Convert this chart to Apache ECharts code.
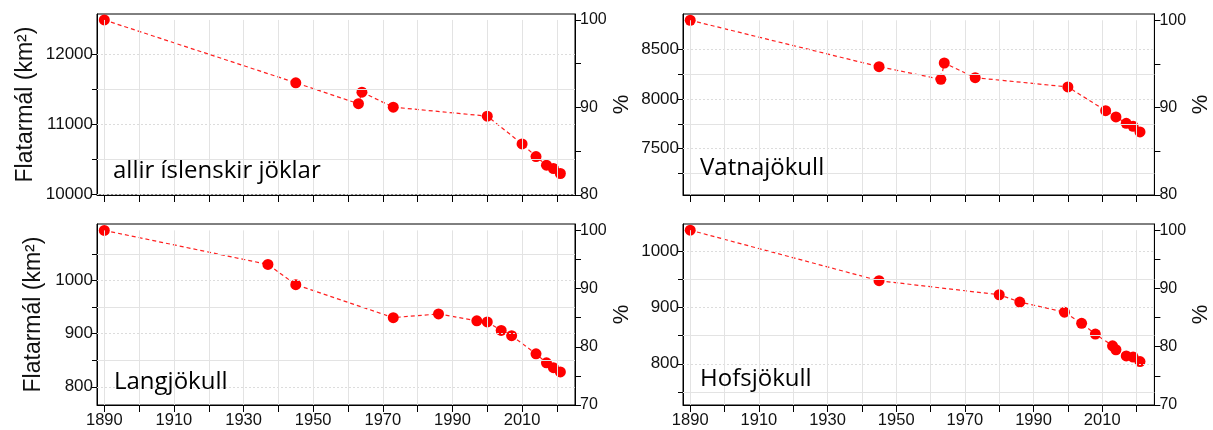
<!DOCTYPE html>
<html>
<head>
<meta charset="utf-8">
<script src="https://cdn.jsdelivr.net/npm/echarts@6/dist/echarts.min.js"></script>
<style>
  html, body { margin: 0; padding: 0; background: #fff; }
  #chart { width: 1213px; height: 430px; }
</style>
</head>
<body>
<div id="chart"></div>
<script>
// flatarmál jökla (km2) eftir árum
const allirYears = [1890, 1945, 1963, 1964, 1973, 2000, 2010, 2014, 2017, 2019, 2021];
const allirArea = [12484, 11588, 11289, 11454, 11240, 11112, 10716, 10535, 10412, 10365, 10294];

const vatnaYears = [1890, 1945, 1963, 1964, 1973, 2000, 2011, 2014, 2017, 2019, 2021];
const vatnaArea = [8792, 8325, 8198, 8362, 8214, 8121, 7882, 7819, 7755, 7725, 7668];

const langYears = [1890, 1937, 1945, 1973, 1986, 1997, 2000, 2004, 2007, 2014, 2017, 2019, 2021];
const langArea = [1094, 1030, 992, 930, 937, 924, 922, 906, 896, 862, 845, 836, 828];

const hofsYears = [1890, 1945, 1980, 1986, 1999, 2004, 2008, 2013, 2014, 2017, 2019, 2021];
const hofsArea = [1038, 948, 923, 910, 892, 872, 853, 832, 825, 814, 812, 804];

// ásar
const yearTicks = [1890, 1900, 1910, 1920, 1930, 1940, 1950, 1960, 1970, 1980, 1990, 2000, 2010, 2020];
const yearLabels = [1890, 1910, 1930, 1950, 1970, 1990, 2010];

const allirTicks = [10000, 10500, 11000, 11500, 12000];
const allirLabels = [10000, 11000, 12000];
const vatnaTicks = [7250, 7500, 7750, 8000, 8250, 8500];
const vatnaLabels = [7500, 8000, 8500];
const langTicks = [800, 850, 900, 950, 1000, 1050];
const langLabels = [800, 900, 1000];
const hofsTicks = [750, 800, 850, 900, 950, 1000];
const hofsLabels = [800, 900, 1000];

const pctTicksTop = [80, 85, 90, 95, 100];
const pctLabelsTop = [80, 90, 100];
const pctTicksBottom = [70, 75, 80, 85, 90, 95, 100];
const pctLabelsBottom = [70, 80, 90, 100];

const FONT = '"Liberation Sans", Arial, sans-serif';
const TXT = '#111';
const plain = function (v) { return String(Math.round(v)); };

const panels = [
  { label: 'allir íslenskir jöklar', years: allirYears, area: allirArea, ticks: allirTicks, labels: allirLabels,
    pctMin: 80, pctTicks: pctTicksTop, pctLabels: pctLabelsTop, yMax: 12569,
    left: 97, top: 14, width: 478, bottomRow: false, title: true, nameGap: 60, textX: 113, textBase: 180 },
  { label: 'Vatnajökull', years: vatnaYears, area: vatnaArea, ticks: vatnaTicks, labels: vatnaLabels,
    pctMin: 80, pctTicks: pctTicksTop, pctLabels: pctLabelsTop, yMax: 8855,
    left: 683, top: 14, width: 478, bottomRow: false, title: false, textX: 700, textBase: 177 },
  { label: 'Langjökull', years: langYears, area: langArea, ticks: langTicks, labels: langLabels,
    pctMin: 70, pctTicks: pctTicksBottom, pctLabels: pctLabelsBottom, yMax: 1106,
    left: 97, top: 224, width: 478, bottomRow: true, title: true, nameGap: 52, textX: 114, textBase: 391 },
  { label: 'Hofsjökull', years: hofsYears, area: hofsArea, ticks: hofsTicks, labels: hofsLabels,
    pctMin: 70, pctTicks: pctTicksBottom, pctLabels: pctLabelsBottom, yMax: 1049,
    left: 683, top: 224, width: 478, bottomRow: true, title: false, textX: 700, textBase: 388 }
];

const grid = [], xAxis = [], yAxis = [], series = [], graphic = [];

panels.forEach(function (p, i) {
  const ref = p.area[0];
  const yMin = ref * p.pctMin / 100;

  grid.push({ left: p.left, top: p.top, width: p.width, height: 181,
    show: true, borderColor: '#000', borderWidth: 1, backgroundColor: '#fff' });

  xAxis.push({
    gridIndex: i, type: 'value', min: 1887.9, max: 2025.2,
    axisLine: { onZero: false, lineStyle: { color: '#000', width: 1 } },
    axisTick: { customValues: yearTicks, length: 7, lineStyle: { color: '#000' } },
    axisLabel: { show: p.bottomRow, customValues: yearLabels, formatter: plain,
      fontSize: 16.5, fontFamily: FONT, color: TXT, margin: 7 },
    splitLine: { show: false }
  });

  yAxis.push({
    gridIndex: i, type: 'value', position: 'left', min: yMin, max: p.yMax,
    axisLine: { show: true, lineStyle: { color: '#000', width: 1 } },
    axisTick: { show: true, customValues: p.ticks, length: 5, lineStyle: { color: '#000' } },
    axisLabel: { customValues: p.labels, formatter: plain, fontSize: 17, fontFamily: FONT, color: TXT, margin: 4 },
    splitLine: { show: false },
    name: p.title ? 'Flatarmál (km²)' : '', nameLocation: 'middle', nameGap: p.nameGap || 0,
    nameTextStyle: { fontSize: 23, fontFamily: FONT, color: TXT }
  });

  yAxis.push({
    gridIndex: i, type: 'value', position: 'right', min: p.pctMin, max: p.yMax / ref * 100,
    axisLine: { show: true, lineStyle: { color: '#000', width: 1 } },
    axisTick: { show: true, customValues: p.pctTicks, length: 6, lineStyle: { color: '#000' } },
    axisLabel: { customValues: p.pctLabels, formatter: plain, fontSize: 16, fontFamily: FONT, color: TXT, margin: 5 },
    splitLine: { show: false },
    name: '%', nameLocation: 'middle', nameRotate: 90, nameGap: 27,
    nameTextStyle: { fontSize: 22, fontFamily: FONT, color: TXT }
  });

  // hjálparlínur
  const gridLines = [];
  p.ticks.forEach(function (v) {
    const major = p.labels.indexOf(v) >= 0;
    gridLines.push({ yAxis: v, lineStyle: major
      ? { color: '#dcdcdc', type: [2, 2], width: 1 }
      : { color: '#e3e3e3', type: 'solid', width: 1 } });
  });
  yearTicks.forEach(function (yr) {
    gridLines.push([{ coord: [yr, yMin], lineStyle: { color: '#e3e3e3', type: 'solid', width: 1 } }, { coord: [yr, ref] }]);
  });

  series.push({
    type: 'line', xAxisIndex: i, yAxisIndex: 2 * i, data: [], silent: true, z: 1,
    markLine: { silent: true, symbol: 'none', animation: false, label: { show: false },
      lineStyle: { color: '#e3e3e3', type: 'solid', width: 1 }, emphasis: { disabled: true },
      data: gridLines }
  });

  series.push({
    type: 'line', name: p.label, xAxisIndex: i, yAxisIndex: 2 * i, z: 3,
    data: p.years.map(function (y, k) { return [y, p.area[k]]; }),
    symbol: 'circle', symbolSize: 11, animation: false,
    itemStyle: { color: '#ff0000', borderWidth: 0, opacity: 1 },
    emphasis: { disabled: true },
    lineStyle: { color: '#ff2020', width: 1.2, type: [4, 3] }
  });

  graphic.push({
    type: 'text', x: p.textX, y: p.textBase - 9, z: 10,
    style: { text: p.label, font: '24px "Open Sans"', fill: '#000', verticalAlign: 'middle' }
  });
});

const chart = echarts.init(document.getElementById('chart'));
chart.setOption({
  animation: false,
  grid: grid,
  xAxis: xAxis,
  yAxis: yAxis,
  series: series,
  graphic: graphic
});
</script>
</body>
</html>
